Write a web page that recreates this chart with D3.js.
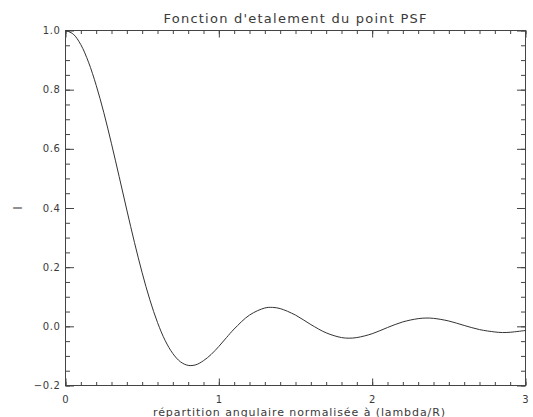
<!DOCTYPE html>
<html>
<head>
<meta charset="utf-8">
<script src="https://cdn.jsdelivr.net/npm/d3@7"></script>
<style>
  html, body { margin: 0; padding: 0; background: #fff; }
  svg { display: block; }
  text { font-family: "DejaVu Sans", "Liberation Sans", sans-serif; fill: #3a3a3a; }
</style>
</head>
<body>
<svg id="chart" width="533" height="417"></svg>
<script>
// ---- data ----
const xValues = [0, 0.05, 0.1, 0.15, 0.2, 0.25, 0.3, 0.35, 0.4, 0.45, 0.5, 0.55, 0.6, 0.65, 0.7, 0.75,
  0.8, 0.85, 0.9, 0.95, 1.0, 1.05, 1.1, 1.2, 1.3, 1.35, 1.4, 1.5, 1.6, 1.7, 1.8, 1.85, 1.9, 2.0,
  2.1, 2.2, 2.3, 2.35, 2.4, 2.5, 2.6, 2.7, 2.8, 2.85, 2.9, 3.0];
const intensity = [1.0, 0.988, 0.952, 0.893, 0.815, 0.722, 0.617, 0.506, 0.393, 0.283, 0.181, 0.090, 0.013, -0.048, -0.092, -0.120,
  -0.132, -0.130, -0.116, -0.095, -0.068, -0.038, -0.009, 0.038, 0.062, 0.064, 0.060, 0.038, 0.006, -0.022, -0.038, -0.040, -0.038, -0.025,
  -0.004, 0.015, 0.026, 0.028, 0.027, 0.018, 0.003, -0.011, -0.019, -0.021, -0.020, -0.014];
const xMajorTicks = [0, 1, 2, 3];
const xMinorTicks = d3.range(0, 31).map(i => i / 10);
const yMajorTicks = [-0.2, 0.0, 0.2, 0.4, 0.6, 0.8, 1.0];
const yMinorTicks = d3.range(0, 25).map(i => -0.2 + i * 0.05);
const titleText = "Fonction d'etalement du point PSF";
const xLabelText = "répartition angulaire normalisée à (lambda/R)";
const yLabelText = "I";

// ---- layout ----
const plotLeft = 65.5, plotRight = 525.5, plotTop = 30.5, plotBottom = 385.5;
const svg = d3.select("#chart");

const x = d3.scaleLinear().domain([0, 3]).range([plotLeft, plotRight]);
const y = d3.scaleLinear().domain([-0.2, 1.0]).range([plotBottom, plotTop]);

const axisColor = "#444";

function styleAxis(g) {
  g.select(".domain").remove();
  g.selectAll("line").attr("stroke", axisColor).attr("stroke-width", 1);
  g.selectAll("text").remove();
}

// bottom / top ticks (inward)
svg.append("g").attr("transform", `translate(0,${plotBottom})`)
  .call(d3.axisBottom(x).tickValues(xMinorTicks).tickSize(-3.5).tickSizeOuter(0).tickFormat("")).call(styleAxis);
svg.append("g").attr("transform", `translate(0,${plotBottom})`)
  .call(d3.axisBottom(x).tickValues(xMajorTicks).tickSize(-7).tickSizeOuter(0).tickFormat("")).call(styleAxis);
svg.append("g").attr("transform", `translate(0,${plotTop})`)
  .call(d3.axisTop(x).tickValues(xMinorTicks).tickSize(-3.5).tickSizeOuter(0).tickFormat("")).call(styleAxis);
svg.append("g").attr("transform", `translate(0,${plotTop})`)
  .call(d3.axisTop(x).tickValues(xMajorTicks).tickSize(-7).tickSizeOuter(0).tickFormat("")).call(styleAxis);

// left / right ticks (inward)
svg.append("g").attr("transform", `translate(${plotLeft},0)`)
  .call(d3.axisLeft(y).tickValues(yMinorTicks).tickSize(-4.5).tickSizeOuter(0).tickFormat("")).call(styleAxis);
svg.append("g").attr("transform", `translate(${plotLeft},0)`)
  .call(d3.axisLeft(y).tickValues(yMajorTicks).tickSize(-8.5).tickSizeOuter(0).tickFormat("")).call(styleAxis);
svg.append("g").attr("transform", `translate(${plotRight},0)`)
  .call(d3.axisRight(y).tickValues(yMinorTicks).tickSize(-4.5).tickSizeOuter(0).tickFormat("")).call(styleAxis);
svg.append("g").attr("transform", `translate(${plotRight},0)`)
  .call(d3.axisRight(y).tickValues(yMajorTicks).tickSize(-8.5).tickSizeOuter(0).tickFormat("")).call(styleAxis);

// frame
svg.append("rect")
  .attr("x", plotLeft).attr("y", plotTop)
  .attr("width", plotRight - plotLeft).attr("height", plotBottom - plotTop)
  .attr("fill", "none").attr("stroke", axisColor).attr("stroke-width", 1);

// tick labels
const fmtY = d3.format(".1f");
svg.append("g").selectAll("text").data(yMajorTicks).join("text")
  .attr("x", plotLeft - 5)
  .attr("y", d => y(d) + 3.6)
  .attr("text-anchor", "end")
  .attr("font-size", 10)
  .style("letter-spacing", "0.6px")
  .text(d => fmtY(d));

svg.append("g").selectAll("text").data(xMajorTicks).join("text")
  .attr("x", d => x(d))
  .attr("y", 402.5)
  .attr("text-anchor", "middle")
  .attr("font-size", 10)
  .text(d => d3.format("d")(d));

// titles
svg.append("text")
  .attr("x", 295).attr("y", 22.7)
  .attr("text-anchor", "middle")
  .attr("font-size", 13)
  .attr("textLength", 263).attr("lengthAdjust", "spacing")
  .text(titleText);

svg.append("text")
  .attr("x", 299).attr("y", 415.5)
  .attr("text-anchor", "middle")
  .attr("font-size", 11)
  .attr("textLength", 292).attr("lengthAdjust", "spacing")
  .text(xLabelText);

svg.append("text")
  .attr("transform", `translate(22,${(plotTop + plotBottom) / 2}) rotate(-90)`)
  .attr("text-anchor", "middle")
  .attr("font-size", 12)
  .text(yLabelText);

// curve
const points = xValues.map((v, i) => [v, intensity[i]]);
const line = d3.line()
  .x(d => x(d[0]))
  .y(d => y(d[1]))
  .curve(d3.curveCatmullRom.alpha(0.5));

svg.append("path")
  .datum(points)
  .attr("d", line)
  .attr("fill", "none")
  .attr("stroke", "#333")
  .attr("stroke-width", 1);
</script>
</body>
</html>
